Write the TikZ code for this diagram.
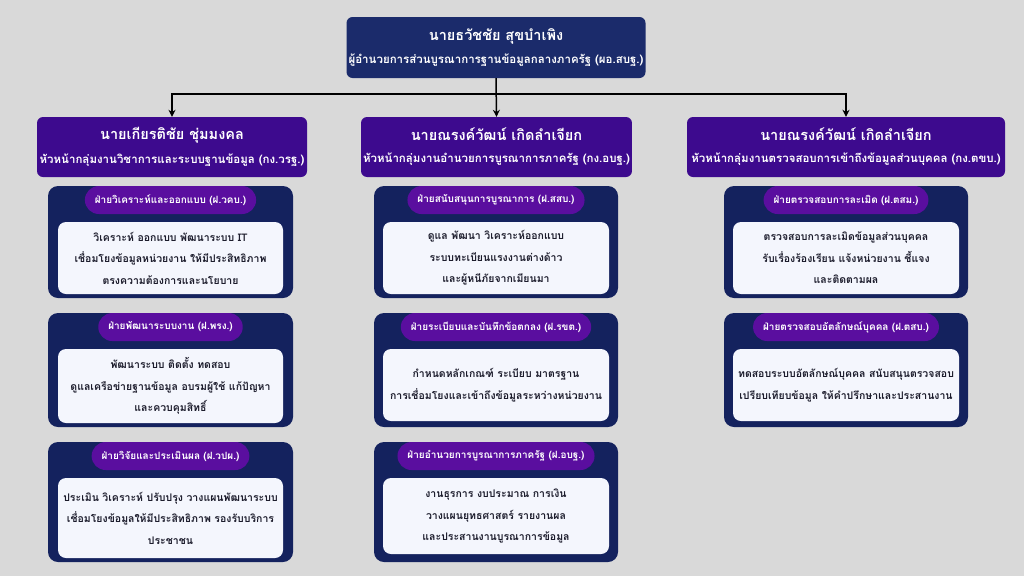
\documentclass[tikz,border=0pt]{standalone}
\usepackage{fontspec}
\newfontfamily\thaifont[Script=Thai]{Loma}
\usetikzlibrary{arrows.meta}

\definecolor{bggray}{HTML}{D9D9D9}
\definecolor{topnavy}{HTML}{1B2B6B}
\definecolor{grouppurple}{HTML}{3D0A8E}
\definecolor{unitnavy}{HTML}{14225E}
\definecolor{pillpurple}{HTML}{5A0E9F}
\definecolor{taskwhite}{HTML}{F4F6FD}
\definecolor{tasktext}{HTML}{1C1C2C}

\newcommand{\namefont}{\fontsize{14.5}{17}\selectfont}
\newcommand{\subfont}{\fontsize{11.5}{13}\selectfont}

\tikzset{
  topbox/.style={fill=topnavy, text=white, rounded corners=6pt, align=center,
    minimum width=299pt, minimum height=61pt, inner sep=2pt, font=\thaifont\bfseries},
  groupbox/.style={fill=grouppurple, text=white, rounded corners=6pt, align=center,
    minimum height=60pt, inner sep=2pt, font=\thaifont\bfseries},
  unitbox/.style={fill=unitnavy, rounded corners=10pt, inner sep=0pt},
  pill/.style={fill=pillpurple, text=white, rounded corners=14pt, minimum height=28pt,
    inner xsep=10pt, inner ysep=0pt, anchor=north, font=\thaifont\bfseries\fontsize{10}{12}\selectfont},
  taskbox/.style={fill=taskwhite, text=tasktext, rounded corners=8pt, align=center, anchor=north,
    inner sep=2pt, font=\thaifont\bfseries\fontsize{10.5}{21.5}\selectfont},
  link/.style={line width=1.5pt, -{Stealth[length=7pt,width=7pt]}}
}

\begin{document}
\begin{tikzpicture}[x=1pt, y=-1pt]
    \fill [bggray] (0,0) rectangle (1024,576);
    \useasboundingbox (0,0) rectangle (1024,576);

    % director and groups
    \node [topbox] (dir) at (496,47.5) {{\namefont นายธวัชชัย สุขบำเพิง}\\[8pt]{\subfont ผู้อำนวยการส่วนบูรณาการฐานข้อมูลกลางภาครัฐ (ผอ.สบฐ.)}};
    \node [groupbox, minimum width=270pt] (gvr) at (172,147) {{\namefont นายเกียรติชัย ชุ่มมงคล}\\[10pt]{\subfont หัวหน้ากลุ่มงานวิชาการและระบบฐานข้อมูล (กง.วรฐ.)}};
    \node [groupbox, minimum width=269pt] (gab) at (496.5,147) {{\namefont นายณรงค์วัฒน์ เกิดลำเจียก}\\[10pt]{\subfont หัวหน้ากลุ่มงานอำนวยการบูรณาการภาครัฐ (กง.อบฐ.)}};
    \node [groupbox, minimum width=318pt] (gtk) at (846,147) {{\namefont นายณรงค์วัฒน์ เกิดลำเจียก}\\[10pt]{\subfont หัวหน้ากลุ่มงานตรวจสอบการเข้าถึงข้อมูลส่วนบุคคล (กง.ตขบ.)}};

    \coordinate (bus) at (496,94);
    \draw [link] (dir.south) -- (gab.north);
    \draw [link] (bus) -| (gvr.north);
    \draw [link] (bus) -| (gtk.north);

    % units under กง.วรฐ.
    \node [unitbox, minimum width=245pt, minimum height=112pt] (vkb) at (170.5,242) {};
    \node [pill] (vkbp) at (vkb.north) {ฝ่ายวิเคราะห์และออกแบบ (ฝ.วคบ.)};
    \node [taskbox, minimum width=225pt, minimum height=72pt] (vkbt) at ([yshift=-36pt]vkb.north) {วิเคราะห์ ออกแบบ พัฒนาระบบ IT\\เชื่อมโยงข้อมูลหน่วยงาน ให้มีประสิทธิภาพ\\ตรงความต้องการและนโยบาย};

    \node [unitbox, minimum width=245pt, minimum height=114pt] (prg) at (170.5,370) {};
    \node [pill] (prgp) at (prg.north) {ฝ่ายพัฒนาระบบงาน (ฝ.พรง.)};
    \node [taskbox, minimum width=225pt, minimum height=74pt] (prgt) at ([yshift=-36pt]prg.north) {พัฒนาระบบ ติดตั้ง ทดสอบ\\ดูแลเครือข่ายฐานข้อมูล อบรมผู้ใช้ แก้ปัญหา\\และควบคุมสิทธิ์};

    \node [unitbox, minimum width=245pt, minimum height=120pt] (vpp) at (170.5,502) {};
    \node [pill] (vppp) at (vpp.north) {ฝ่ายวิจัยและประเมินผล (ฝ.วปผ.)};
    \node [taskbox, minimum width=225pt, minimum height=80pt] (vppt) at ([yshift=-36pt]vpp.north) {ประเมิน วิเคราะห์ ปรับปรุง วางแผนพัฒนาระบบ\\เชื่อมโยงข้อมูลให้มีประสิทธิภาพ รองรับบริการ\\ประชาชน};

    % units under กง.อบฐ.
    \node [unitbox, minimum width=244pt, minimum height=112pt] (ssb) at (496,242) {};
    \node [pill] (ssbp) at (ssb.north) {ฝ่ายสนับสนุนการบูรณาการ (ฝ.สสบ.)};
    \node [taskbox, minimum width=226pt, minimum height=72pt] (ssbt) at ([yshift=-36pt]ssb.north) {ดูแล พัฒนา วิเคราะห์ออกแบบ\\ระบบทะเบียนแรงงานต่างด้าว\\และผู้หนีภัยจากเมียนมา};

    \node [unitbox, minimum width=244pt, minimum height=114pt] (rkt) at (496,370) {};
    \node [pill] (rktp) at (rkt.north) {ฝ่ายระเบียบและบันทึกข้อตกลง (ฝ.รขต.)};
    \node [taskbox, minimum width=226pt, minimum height=72pt] (rktt) at ([yshift=-36pt]rkt.north) {กำหนดหลักเกณฑ์ ระเบียบ มาตรฐาน\\การเชื่อมโยงและเข้าถึงข้อมูลระหว่างหน่วยงาน};

    \node [unitbox, minimum width=244pt, minimum height=120pt] (abt) at (496,502) {};
    \node [pill] (abtp) at (abt.north) {ฝ่ายอำนวยการบูรณาการภาครัฐ (ฝ.อบฐ.)};
    \node [taskbox, minimum width=226pt, minimum height=76pt] (abtt) at ([yshift=-36pt]abt.north) {งานธุรการ งบประมาณ การเงิน\\วางแผนยุทธศาสตร์ รายงานผล\\และประสานงานบูรณาการข้อมูล};

    % units under กง.ตขบ.
    \node [unitbox, minimum width=244pt, minimum height=112pt] (tsm) at (846,242) {};
    \node [pill] (tsmp) at (tsm.north) {ฝ่ายตรวจสอบการละเมิด (ฝ.ตสม.)};
    \node [taskbox, minimum width=226pt, minimum height=72pt] (tsmt) at ([yshift=-36pt]tsm.north) {ตรวจสอบการละเมิดข้อมูลส่วนบุคคล\\รับเรื่องร้องเรียน แจ้งหน่วยงาน ชี้แจง\\และติดตามผล};

    \node [unitbox, minimum width=244pt, minimum height=114pt] (tsb) at (846,370) {};
    \node [pill] (tsbp) at (tsb.north) {ฝ่ายตรวจสอบอัตลักษณ์บุคคล (ฝ.ตสบ.)};
    \node [taskbox, minimum width=226pt, minimum height=72pt] (tsbt) at ([yshift=-36pt]tsb.north) {ทดสอบระบบอัตลักษณ์บุคคล สนับสนุนตรวจสอบ\\เปรียบเทียบข้อมูล ให้คำปรึกษาและประสานงาน};
  \end{tikzpicture}
\end{document}
